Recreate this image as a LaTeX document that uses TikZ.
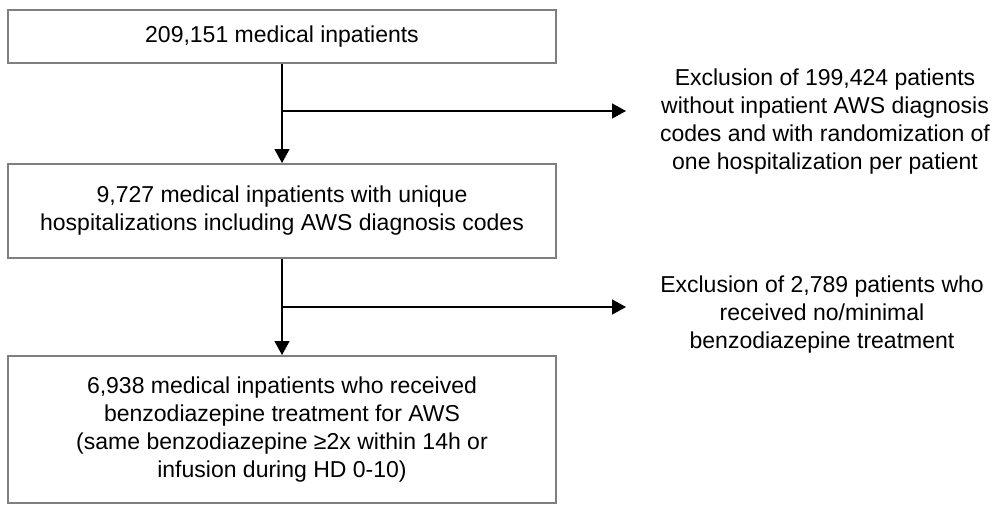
\documentclass[tikz,border=0pt]{standalone}
\usepackage{fontspec}
\setmainfont{Liberation Sans}
\usepackage{xcolor}
\usetikzlibrary{arrows.meta}
\definecolor{boxgray}{HTML}{7F7F7F}
\tikzstyle{cohort} = [rectangle, minimum width=548pt, minimum height=53pt, text centered, align=center, draw=boxgray, line width=2pt, font=\fontsize{23}{28}\selectfont]
\tikzstyle{exclusion} = [rectangle, align=center, font=\fontsize{23}{28}\selectfont]
\tikzstyle{arrow} = [line width=1.3pt, -{Triangle[length=14pt,width=15pt]}]

\begin{document}
\begin{tikzpicture}[node distance=200pt]
	\useasboundingbox (0,0) rectangle (995pt,-504pt);
	\node (all) [cohort] at (282pt,-36.5pt) {209,151 medical inpatients};
	\node (aws) [cohort, minimum height=94pt, below of=all, yshift=25.5pt] {9,727 medical inpatients with unique\\hospitalizations including AWS diagnosis codes};
	\node (bzd) [cohort, minimum height=147pt, below of=aws, yshift=-18.5pt] {6,938 medical inpatients who received\\benzodiazepine treatment for AWS\\(same benzodiazepine ≥2x within 14h or\\infusion during HD 0-10)};

	\coordinate (split1) at ([yshift=-47pt]all.south);
	\coordinate (tip1) at ([xshift=344pt]split1);
	\node (excl1) [exclusion, right of=split1, xshift=343pt, yshift=-11pt] {Exclusion of 199,424 patients\\without inpatient AWS diagnosis\\codes and with randomization of\\one hospitalization per patient};

	\coordinate (split2) at ([yshift=-48pt]aws.south);
	\coordinate (tip2) at ([xshift=344pt]split2);
	\node (excl2) [exclusion, right of=split2, xshift=340pt, yshift=-8pt] {Exclusion of 2,789 patients who\\received no/minimal\\benzodiazepine treatment};

	\draw [arrow] (all) -- (aws);
	\draw [arrow] (aws) -- (bzd);
	\draw [arrow] (split1) -- (tip1);
	\draw [arrow] (split2) -- (tip2);
\end{tikzpicture}
\end{document}
